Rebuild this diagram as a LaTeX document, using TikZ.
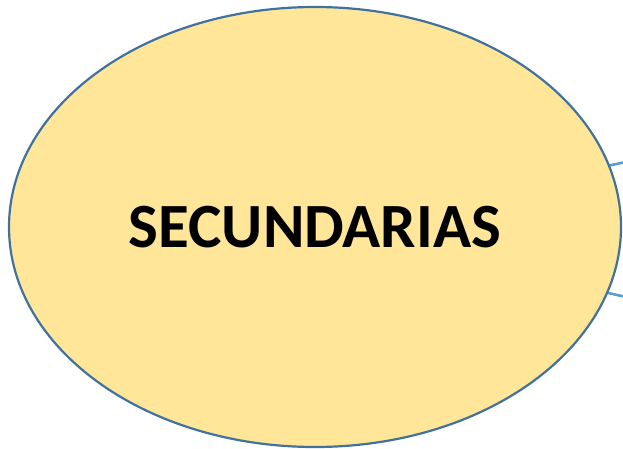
\documentclass[tikz,border=0pt]{standalone}
\usepackage{fontspec}
\setmainfont{Carlito}
\usetikzlibrary{shapes.geometric}
\definecolor{fillY}{HTML}{FFE699}
\definecolor{edgeB}{HTML}{41719C}
\definecolor{linkB}{HTML}{5B9BD5}
\begin{document}
\begin{tikzpicture}[x=1pt,y=-1pt,
  bubble/.style={ellipse,draw=edgeB,fill=fillY,line width=2.2pt,inner sep=0pt,
    minimum width=612pt,minimum height=440pt,
    font=\fontsize{63}{68}\selectfont\bfseries},
  link/.style={draw=linkB,line width=2.6pt}]
\useasboundingbox (0,0) rectangle (623,449);
\coordinate (t) at (626,162);
\coordinate (b) at (626,297);
\draw[link] (315,227) -- (t);
\draw[link] (315,227) -- (b);
\node[bubble] (e) at (315,227) {\raisebox{-2pt}{SECUNDARIAS}};
\end{tikzpicture}
\end{document}
